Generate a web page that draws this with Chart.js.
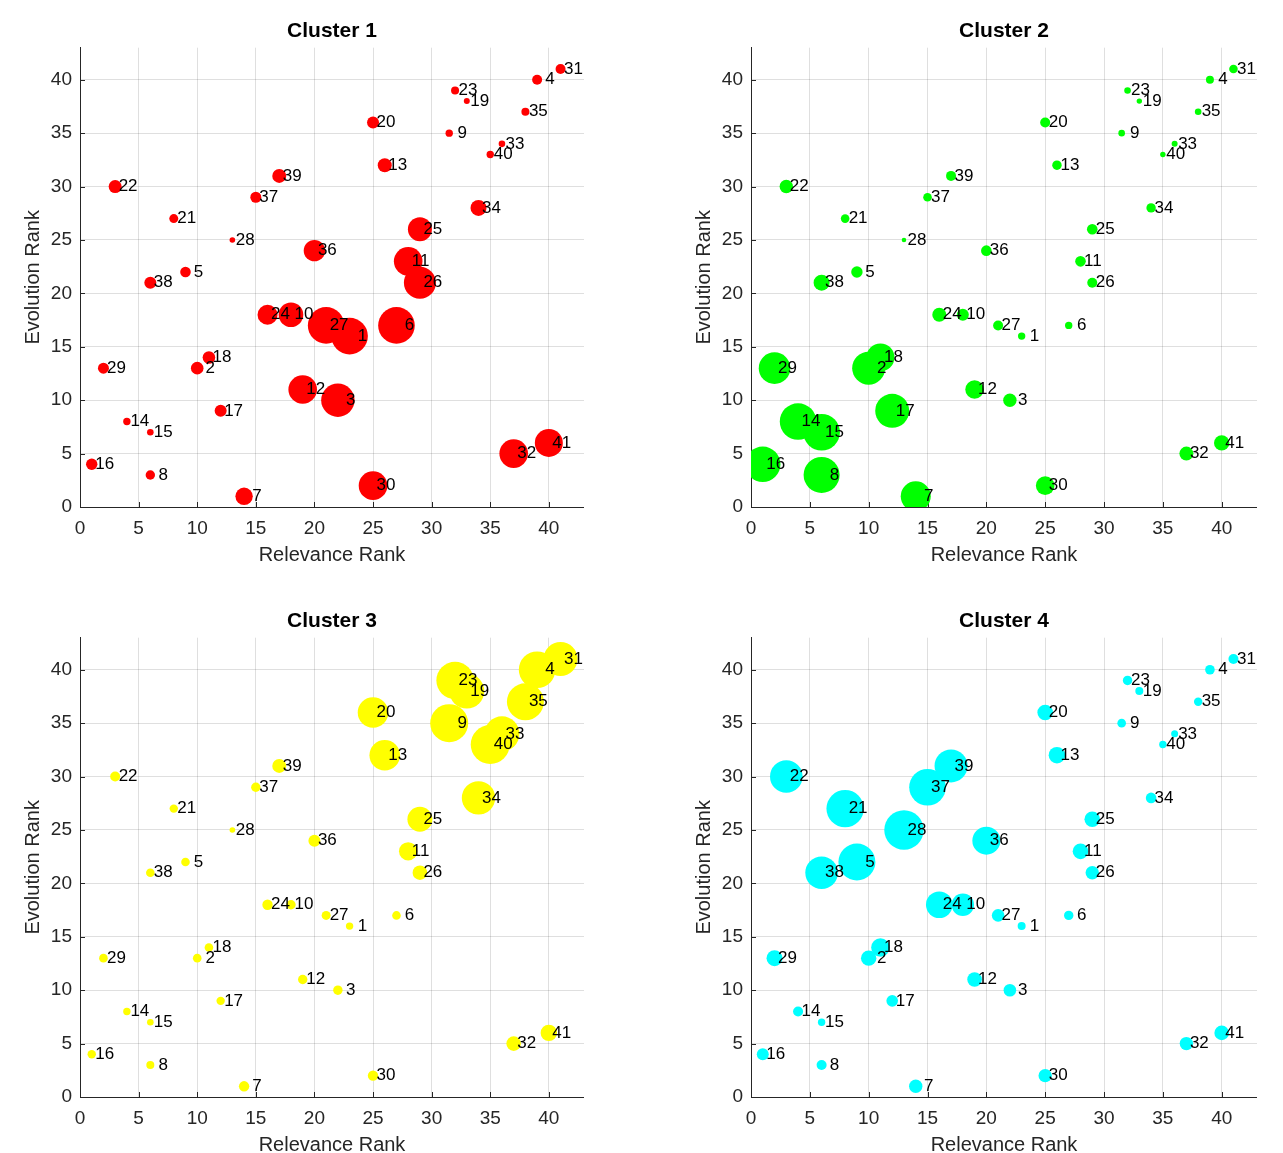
<!DOCTYPE html>
<html>
<head>
<meta charset="utf-8">
<script src="https://cdn.jsdelivr.net/npm/chart.js@4/dist/chart.umd.min.js"></script>
<style>
  html, body { margin: 0; padding: 0; background: #ffffff; width: 1283px; height: 1153px; overflow: hidden; }
  canvas { position: absolute; }
</style>
</head>
<body>
<canvas id="cluster1" width="584" height="576" style="left:0px;top:0px"></canvas>
<canvas id="cluster2" width="586" height="576" style="left:671px;top:0px"></canvas>
<canvas id="cluster3" width="584" height="576" style="left:0px;top:590px"></canvas>
<canvas id="cluster4" width="586" height="576" style="left:671px;top:590px"></canvas>
<script>
// Item identifiers, one per bubble
const pointIds = [1, 2, 3, 4, 5, 6, 7, 8, 9, 10, 11, 12, 13, 14, 15, 16, 17, 18, 19, 20,
                  21, 22, 23, 24, 25, 26, 27, 28, 29, 30, 31, 32, 33, 34, 35, 36, 37, 38, 39, 40, 41];

// Relevance rank (x) and evolution rank (y) of every item
const relevanceRank = [23, 10, 22, 39, 9, 27, 14, 6, 31.5, 18, 28, 19, 26, 4, 6, 1, 12, 11, 33, 25,
                       8, 3, 32, 16, 29, 29, 21, 13, 2, 25, 41, 37, 36, 34, 38, 20, 15, 6, 17, 35, 40];
const evolutionRank = [16, 13, 10, 40, 22, 17, 1, 3, 35, 18, 23, 11, 32, 8, 7, 4, 9, 14, 38, 36,
                       27, 30, 39, 18, 26, 21, 17, 25, 13, 2, 41, 5, 34, 28, 37, 24, 29, 21, 31, 33, 6];

// Bubble radius of every item within each cluster
const cluster1Size = [18.3, 6.3, 16.7, 5, 5.3, 18.3, 8.7, 4.7, 3.7, 12.3, 14.3, 14.3, 7, 3.7, 3.3, 5.7, 6, 6.3, 3, 6,
                      4.5, 6.5, 4, 10, 12, 16, 18.3, 2.8, 5.5, 14.3, 5, 14.3, 3.3, 8, 4, 10.7, 5.5, 6, 7, 3.7, 14];
const cluster2Size = [3.7, 16.5, 6.7, 4, 5.7, 3.7, 15, 18, 3.3, 6, 5.3, 9.3, 4.7, 18.3, 18.3, 17.7, 17, 14, 2.7, 5,
                      4.3, 6.7, 3.3, 7, 5.3, 5, 5, 2.3, 15.8, 9.3, 4.3, 7, 3, 4.7, 3.3, 5.3, 4.3, 8, 5, 2.7, 7.7];
const cluster3Size = [3.7, 4.3, 4.7, 18.3, 4.3, 4.3, 5.2, 4, 19, 4.7, 9.2, 4.7, 15.3, 3.7, 3.3, 4.2, 4.2, 4.3, 17.5, 15.3,
                      4.2, 5, 18.7, 5.2, 12.5, 7.3, 4.5, 2.8, 4.3, 5.2, 17, 7.3, 17.5, 16.7, 18.5, 6, 4.7, 4.3, 7, 19.5, 8.2];
const cluster4Size = [4, 7.7, 6.3, 4.8, 18.5, 4.7, 6.7, 5, 4.3, 11.2, 7.8, 7.3, 8.3, 5, 3.7, 6, 5.8, 9.3, 4, 7.8,
                      18.7, 16.3, 4.7, 13.3, 7.8, 6.7, 6.3, 19.7, 8, 6.7, 5, 6.7, 3.5, 5.3, 4.2, 14, 18.3, 16.3, 16.5, 3.7, 7.3];

const clusterTitles = ['Cluster 1', 'Cluster 2', 'Cluster 3', 'Cluster 4'];
const clusterColors = ['#ff0000', '#00ff00', '#ffff00', '#00ffff'];
const xAxisTitle = 'Relevance Rank';
const yAxisTitle = 'Evolution Rank';

const FONT = '"Liberation Sans", Arial, Helvetica, sans-serif';
const AXIS_COLOR = '#262626';

// Short tick marks pointing into the plot area
const innerTicks = {
  id: 'innerTicks',
  beforeDatasetsDraw(chart) {
    const { ctx, chartArea, scales: { x, y } } = chart;
    ctx.save();
    ctx.strokeStyle = AXIS_COLOR;
    ctx.lineWidth = 1;
    ctx.beginPath();
    x.ticks.forEach(t => {
      const px = Math.round(x.getPixelForValue(t.value)) + 0.5;
      ctx.moveTo(px, chartArea.bottom);
      ctx.lineTo(px, chartArea.bottom - 5);
    });
    y.ticks.forEach(t => {
      const py = Math.round(y.getPixelForValue(t.value)) + 0.5;
      ctx.moveTo(chartArea.left, py);
      ctx.lineTo(chartArea.left + 5, py);
    });
    ctx.stroke();
    ctx.restore();
  }
};

// Item number written just right of each bubble centre
const pointLabels = {
  id: 'pointLabels',
  afterDatasetsDraw(chart) {
    const { ctx, scales: { x, y } } = chart;
    const pts = chart.data.datasets[0].data;
    ctx.save();
    ctx.fillStyle = '#000000';
    ctx.font = '17px ' + FONT;
    ctx.textAlign = 'left';
    ctx.textBaseline = 'middle';
    pts.forEach((p, i) => {
      const text = String(pointIds[i]).padStart(2, ' ');
      ctx.fillText(text, x.getPixelForValue(p.x) + 3.5, y.getPixelForValue(p.y));
    });
    ctx.restore();
  }
};

function buildChart(canvasId, title, color, sizes) {
  const points = pointIds.map((id, i) => ({ x: relevanceRank[i], y: evolutionRank[i], r: sizes[i] }));
  return new Chart(document.getElementById(canvasId), {
    type: 'bubble',
    data: {
      datasets: [{
        data: points,
        backgroundColor: color,
        borderWidth: 0,
        hoverRadius: 0,
        hoverBorderWidth: 0
      }]
    },
    options: {
      responsive: false,
      animation: false,
      events: [],
      layout: { padding: 0, autoPadding: false },
      plugins: {
        legend: { display: false },
        tooltip: { enabled: false },
        title: {
          display: true,
          text: title,
          fullSize: false,
          color: '#000000',
          font: { family: FONT, size: 21, weight: 'bold' },
          padding: { top: 19, bottom: 3.5 }
        }
      },
      scales: {
        x: {
          type: 'linear',
          position: 'bottom',
          min: 0,
          max: 43,
          ticks: {
            stepSize: 5,
            includeBounds: false,
            color: AXIS_COLOR,
            font: { family: FONT, size: 19 },
            padding: 10,
            maxRotation: 0
          },
          grid: { color: 'rgba(38,38,38,0.15)', lineWidth: 1, drawTicks: false },
          border: { display: true, color: AXIS_COLOR, width: 1 },
          title: {
            display: true,
            text: xAxisTitle,
            color: AXIS_COLOR,
            font: { family: FONT, size: 20 },
            padding: { top: 0, bottom: 9 }
          },
          afterFit(scale) {
            scale.height = 69;
            scale.paddingLeft = 0;
            scale.paddingRight = 0;
          }
        },
        y: {
          type: 'linear',
          position: 'left',
          min: 0,
          max: 43,
          ticks: {
            stepSize: 5,
            includeBounds: false,
            color: AXIS_COLOR,
            font: { family: FONT, size: 19 },
            padding: 8
          },
          grid: { color: 'rgba(38,38,38,0.15)', lineWidth: 1, drawTicks: false },
          border: { display: true, color: AXIS_COLOR, width: 1 },
          title: {
            display: true,
            text: yAxisTitle,
            color: AXIS_COLOR,
            font: { family: FONT, size: 20 },
            padding: { top: 21, bottom: 0 }
          },
          afterFit(scale) {
            scale.width = 80;
            scale.paddingTop = 0;
            scale.paddingBottom = 0;
          }
        }
      }
    },
    plugins: [innerTicks, pointLabels]
  });
}

const clusterSizes = [cluster1Size, cluster2Size, cluster3Size, cluster4Size];
['cluster1', 'cluster2', 'cluster3', 'cluster4'].forEach((id, k) => {
  buildChart(id, clusterTitles[k], clusterColors[k], clusterSizes[k]);
});
</script>
</body>
</html>
